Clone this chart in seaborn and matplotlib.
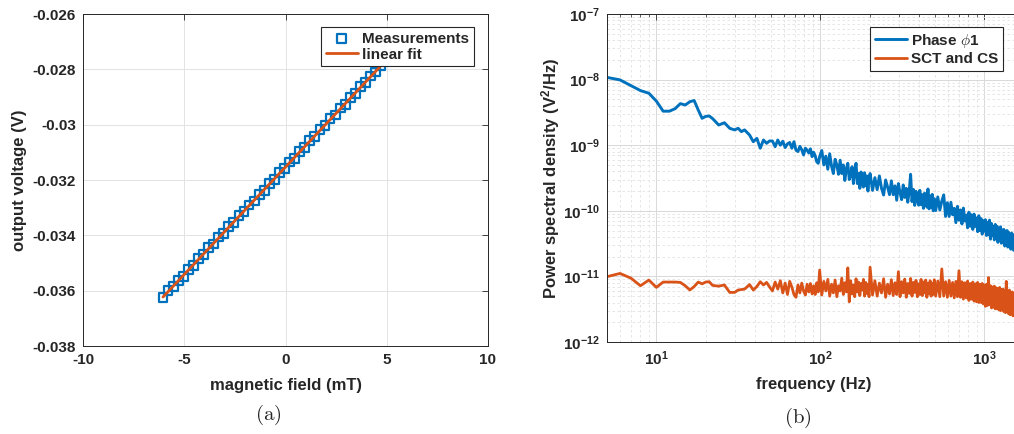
import numpy as np
import pandas as pd
import seaborn as sns
import matplotlib.pyplot as plt
from matplotlib.ticker import FuncFormatter, LogLocator, NullFormatter

# (a) sensor response: field (mT) vs output voltage (V)
meas_field = [-6.05, -5.8, -5.55, -5.3, -5.05, -4.8, -4.55, -4.3, -4.05, -3.8, -3.55,
              -3.3, -3.05, -2.8, -2.55, -2.3, -2.05, -1.8, -1.55, -1.3, -1.05, -0.8,
              -0.55, -0.3, -0.05, 0.2, 0.45, 0.7, 0.95, 1.2, 1.45, 1.7, 1.95, 2.2,
              2.45, 2.7, 2.95, 3.2, 3.45, 3.7, 3.95, 4.2, 4.45, 4.7]
meas_voltage = [-0.03624, -0.03600, -0.03586, -0.03562, -0.03548, -0.03523, -0.03508,
                -0.03484, -0.03470, -0.03445, -0.03431, -0.03406, -0.03392, -0.03367,
                -0.03353, -0.03328, -0.03314, -0.03290, -0.03276, -0.03251, -0.03237,
                -0.03212, -0.03198, -0.03173, -0.03159, -0.03135, -0.03121, -0.03096,
                -0.03082, -0.03057, -0.03043, -0.03018, -0.03004, -0.02979, -0.02965,
                -0.02940, -0.02926, -0.02901, -0.02887, -0.02862, -0.02848, -0.02824,
                -0.02810, -0.02785]
fit_field = [-6.05, 4.7]
fit_voltage = [-0.03623, -0.02788]

x_ticks_a = [-10, -5, 0, 5, 10]
y_ticks_a = [-0.038, -0.036, -0.034, -0.032, -0.03, -0.028, -0.026]

# (b) power spectral density
freq_hz = [5, 6, 7, 8, 9, 10, 11, 12, 13, 14, 15, 16, 17, 18, 19, 20, 21, 22, 24, 26,
           28, 30, 31.5, 33, 34.5, 37, 39, 41, 43, 45, 47, 49,
           51, 53, 55, 57, 59, 61, 63, 65, 67, 69, 71, 73, 75, 77, 79, 81, 83, 85, 87,
           89, 91, 93, 95, 97, 99,
           102, 105, 108, 111, 114, 117, 120, 123, 126, 129, 132, 135, 138, 141, 144,
           147, 150, 153, 156, 159, 162, 165, 168, 171, 174, 177, 180, 183, 186, 189,
           192, 195, 198,
           201, 208, 215, 222, 229, 236, 243, 250, 257, 264, 271, 278, 285, 292, 299,
           306, 313, 320, 327, 334, 341, 348, 355, 362, 369, 376, 383, 390, 397, 404,
           411, 418, 425, 432, 439, 446, 453, 460, 467, 474, 481, 488, 495,
           505, 520, 535, 550, 565, 580, 595, 610, 625, 640, 655, 670, 685, 700, 715,
           730, 745, 760, 775, 790, 805, 820, 835, 850, 865, 880, 895, 910, 925, 940,
           955, 970, 985, 1000, 1015, 1030, 1045, 1060, 1075, 1090, 1105, 1120, 1135,
           1150, 1165, 1180, 1195, 1210, 1225, 1240, 1255, 1270, 1285, 1300, 1315,
           1330, 1345, 1360, 1375, 1390, 1405, 1420, 1435, 1450, 1465, 1480, 1495,
           1510, 1525, 1540]

# Phase phi1, in units of 1e-10 V^2/Hz
phase_psd = [108, 99, 81, 68, 62, 47, 33, 33, 36, 43, 41, 46, 48, 34.4, 25.7, 27.5, 27.9,
             25.5, 20.3, 22.0, 18.1, 17.1, 18.1, 16.1, 17.1, 14.3, 11.3, 12.7, 9.0, 12.0,
             10.7, 11.6,
             11.6, 9.5, 12.0, 10.0, 11.5, 9.2, 10.5, 11.0, 9.0, 11.3, 8.4, 8.0, 9.6, 8.5,
             7.1, 9.0, 8.4, 7.6, 8.8, 6.7, 7.8, 6.9, 5.6, 5.3, 6.7,
             8.3, 5.0, 6.8, 4.3, 7.4, 4.8, 3.7, 6.1, 5.0, 3.6, 5.9, 3.7, 5.0, 2.9, 4.4,
             5.3, 3.0, 3.5, 4.7, 2.6, 4.1, 5.3, 2.6, 3.7, 2.2, 3.9, 2.7, 2.3, 3.8, 2.4,
             3.4, 2.0, 3.1,
             3.7, 2.05, 3.2, 2.1, 3.4, 2.2, 1.74, 2.95, 2.3, 1.76, 2.86, 1.76, 2.4, 1.45,
             2.6, 1.9, 1.48, 2.48, 1.6, 2.2, 1.35, 1.97, 3.6, 1.38, 2.12, 1.21, 1.98,
             1.47, 1.22, 2.05, 1.24, 1.76, 1.09, 1.86, 1.4, 1.14, 2.15, 1.07, 1.68, 1.11,
             1.78, 1.0, 1.53,
             1.01, 1.63, 1.03, 1.40, 1.75, 0.82, 1.33, 0.82, 1.35, 0.87, 1.09, 0.66, 1.17,
             0.72, 1.03, 0.63, 1.10, 0.70, 0.86, 0.55, 0.95, 0.58, 0.87, 0.52, 0.89, 0.58,
             0.78, 0.48, 0.84, 0.50, 0.76, 0.44, 0.71, 0.49, 0.73, 0.42, 0.67, 0.43, 0.72,
             0.37, 0.64, 0.42, 0.58, 0.36, 0.62, 0.38, 0.58, 0.33, 0.54, 0.38, 0.57, 0.32,
             0.51, 0.33, 0.52, 0.29, 0.47, 0.33, 0.50, 0.28, 0.47, 0.30, 0.43, 0.26, 0.46,
             0.27, 0.42, 0.25, 0.44, 0.27]

# SCT and CS, in units of 1e-12 V^2/Hz
sct_psd = [9.9, 11.1, 9.4, 7.2, 8.8, 6.8, 8.2, 8.2, 8.2, 8.1, 7.2, 6.2, 7.0, 8.2, 7.7,
           8.2, 8.3, 7.3, 7.1, 7.4, 5.7, 5.7, 6.2, 6.3, 6.4, 7.5, 6.2, 7.0, 8.3, 7.4,
           8.1, 6.9,
           6.0, 8.2, 6.4, 8.6, 5.6, 7.9, 5.3, 8.4, 6.9, 5.3, 4.8, 7.4, 5.6, 7.9, 6.0,
           5.2, 7.6, 5.8, 7.8, 5.4, 7.2, 5.3, 8.0, 5.8, 12.5,
           5.2, 8.4, 6.0, 9.0, 5.0, 7.6, 5.6, 8.8, 4.9, 7.2, 6.0, 9.4, 5.3, 8.0, 5.8,
           13.5, 4.1, 8.6, 5.4, 7.4, 4.9, 9.2, 5.8, 8.2, 5.1, 7.8, 6.2, 9.0, 5.0, 8.1,
           5.5, 7.6, 4.9,
           13.8, 5.2, 8.6, 5.0, 7.9, 5.6, 9.2, 4.8, 7.6, 5.4, 8.9, 5.1, 8.0, 5.3, 11.8,
           4.9, 8.3, 5.6, 9.1, 4.8, 7.8, 5.5, 9.3, 5.0, 8.1, 5.7, 8.7, 4.9, 7.7, 5.3,
           9.0, 5.1, 8.2, 5.6, 8.8, 4.8, 7.9, 5.4, 8.6, 5.0, 7.8, 5.3, 8.9,
           5.0, 8.5, 4.9, 13.0, 5.0, 8.3, 4.8, 8.7, 5.0, 8.1, 4.7, 8.4, 4.9, 12.2, 4.8,
           8.3, 4.5, 8.0, 4.7, 8.5, 4.3, 7.8, 4.5, 8.2, 4.2, 7.7, 4.1, 8.1, 4.0, 7.6,
           4.0, 7.8, 3.8, 7.4, 3.5, 7.6, 3.6, 9.6, 3.7, 7.2, 3.3, 6.9, 3.4, 7.1, 3.2,
           6.7, 3.2, 6.5, 3.1, 6.8, 3.0, 6.3, 3.1, 6.4, 2.9, 6.0, 2.8, 8.4, 2.9, 5.9,
           2.7, 6.2, 2.6, 5.7, 2.7, 5.8, 2.5, 5.5, 2.6, 5.3]

BLUE = '#0072BD'
ORANGE = '#D95319'

sns.set_style("white")
plt.rcParams['font.family'] = ['Liberation Sans', 'DejaVu Sans']
plt.rcParams['font.weight'] = 'bold'
plt.rcParams['mathtext.fontset'] = 'custom'
plt.rcParams['mathtext.rm'] = 'Liberation Sans:bold'
plt.rcParams['mathtext.bf'] = 'Liberation Sans:bold'
plt.rcParams['mathtext.it'] = 'Liberation Sans:italic:bold'

meas = pd.DataFrame({'field': meas_field, 'voltage': meas_voltage})
psd = pd.DataFrame({'freq': freq_hz,
                    'phase': np.array(phase_psd) * 1e-10,
                    'sct': np.array(sct_psd) * 1e-12})

fig = plt.figure(figsize=(10.14, 4.34), dpi=100)
ax1 = fig.add_axes([83 / 1014, 88 / 434, 405 / 1014, 332 / 434])
ax2 = fig.add_axes([607 / 1014, 92 / 434, 413 / 1014, 328 / 434])

# ---- left panel
sns.scatterplot(data=meas, x='field', y='voltage', marker='s', s=40,
                facecolor='none', edgecolor=BLUE, linewidth=1.6,
                label='Measurements', ax=ax1, zorder=3)
sns.lineplot(x=fit_field, y=fit_voltage, color=ORANGE, lw=2.0,
             label='linear fit', ax=ax1, zorder=4)

ax1.set_xlim(-10, 10)
ax1.set_ylim(-0.038, -0.026)
ax1.set_xticks(x_ticks_a)
ax1.set_yticks(y_ticks_a)
ax1.xaxis.set_major_formatter(FuncFormatter(lambda v, _: '%g' % v))
ax1.yaxis.set_major_formatter(FuncFormatter(lambda v, _: '%g' % v))
ax1.grid(color='#e3e3e3', lw=0.7)
ax1.set_axisbelow(True)
ax1.set_xlabel('magnetic field (mT)', fontsize=12, fontweight='bold')
ax1.set_ylabel('output voltage (V)', fontsize=12, fontweight='bold')
ax1.xaxis.set_label_coords(0.5, -0.096)
ax1.yaxis.set_label_coords(-0.138, 0.5)

leg1 = ax1.legend(loc='upper right', bbox_to_anchor=(0.965, 0.961), borderaxespad=0,
                  fancybox=False, edgecolor='#262626', framealpha=1, fontsize=11,
                  handlelength=2.1, handletextpad=0.3, labelspacing=0.15, borderpad=0.3)
leg1.get_frame().set_linewidth(0.8)

# ---- right panel
ax2.set_xscale('log')
ax2.set_yscale('log')
sns.lineplot(data=psd, x='freq', y='phase', color=BLUE, lw=2.1, label=r'Phase $\phi$1',
             estimator=None, sort=False, ax=ax2)
sns.lineplot(data=psd, x='freq', y='sct', color=ORANGE, lw=2.0, label='SCT and CS',
             estimator=None, sort=False, ax=ax2)

ax2.set_xlim(5, 1649)
ax2.set_ylim(1e-12, 1e-7)
ax2.xaxis.set_major_locator(LogLocator(base=10, numticks=10))
ax2.yaxis.set_major_locator(LogLocator(base=10, numticks=10))
ax2.xaxis.set_minor_locator(LogLocator(base=10, subs=np.arange(2, 10), numticks=20))
ax2.yaxis.set_minor_locator(LogLocator(base=10, subs=np.arange(2, 10), numticks=20))
pow_fmt = FuncFormatter(lambda v, _: r'$\mathbf{10^{%d}}$' % round(np.log10(v)))
ax2.xaxis.set_major_formatter(pow_fmt)
ax2.yaxis.set_major_formatter(pow_fmt)
ax2.xaxis.set_minor_formatter(NullFormatter())
ax2.yaxis.set_minor_formatter(NullFormatter())
ax2.grid(which='major', color='#d9d9d9', lw=0.7)
ax2.grid(which='minor', color='#e2e2e2', lw=0.6, ls=(0, (3, 3)))
ax2.set_axisbelow(True)
ax2.set_xlabel('frequency (Hz)', fontsize=12, fontweight='bold')
ax2.set_ylabel(r'Power spectral density (V$^\mathbf{2}$/Hz)', fontsize=12,
               fontweight='bold')
ax2.xaxis.set_label_coords(0.5, -0.107)
ax2.yaxis.set_label_coords(-0.109, 0.5)

leg2 = ax2.legend(loc='upper right', bbox_to_anchor=(0.959, 0.960), borderaxespad=0,
                  fancybox=False, edgecolor='#262626', framealpha=1, fontsize=11,
                  handlelength=2.1, handletextpad=0.3, labelspacing=0.15, borderpad=0.3)
leg2.get_frame().set_linewidth(0.8)
for t in leg2.get_texts():
    t.set_math_fontfamily('cm')

for ax in (ax1, ax2):
    ax.tick_params(which='major', direction='in', top=True, right=True, length=4,
                   width=0.6, labelsize=11, pad=5, color='#262626')
    ax.tick_params(which='minor', direction='in', top=True, right=True, length=2.5,
                   width=0.5, color='#262626')
    for sp in ax.spines.values():
        sp.set_color('#262626')
        sp.set_linewidth(0.7)

fig.text(268 / 1014, 1 - 415 / 434, r'$\mathrm{(a)}$', math_fontfamily='cm',
         fontsize=15, ha='center', va='center')
fig.text(798 / 1014, 1 - 418 / 434, r'$\mathrm{(b)}$', math_fontfamily='cm',
         fontsize=15, ha='center', va='center')

fig.savefig('out.png', dpi=100)
